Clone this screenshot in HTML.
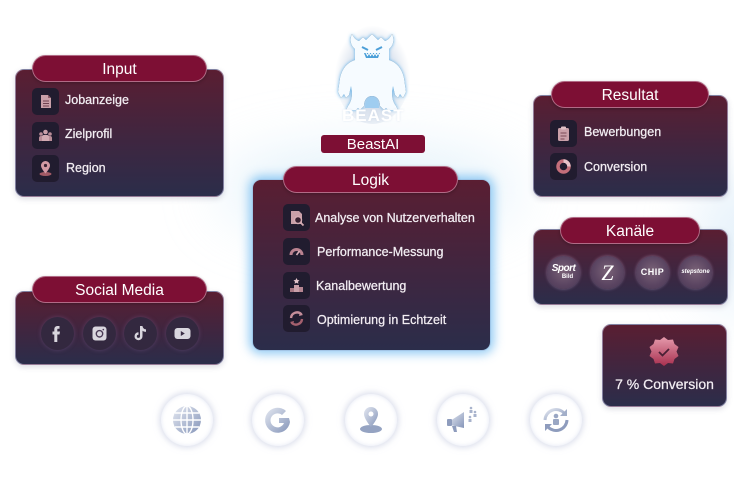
<!DOCTYPE html>
<html><head><meta charset="utf-8">
<style>
*{margin:0;padding:0;box-sizing:border-box}
html,body{width:734px;height:497px;overflow:hidden;background:#fff}
body{position:relative;font-family:"Liberation Sans",sans-serif;}
.bgglow{position:absolute;border-radius:50%;filter:blur(30px)}
.card{position:absolute;border-radius:9px;background:linear-gradient(180deg,#5a1e32 0%,#3f2640 55%,#2b2d4a 100%);border:1px solid rgba(200,200,235,0.55);box-shadow:0 2px 6px rgba(60,60,100,0.18)}
.pill{position:absolute;background:#7d0f34;border-radius:14px;color:#fff;font-size:15.5px;text-align:center;border:1px solid rgba(230,200,215,0.5);box-shadow:0 1px 3px rgba(0,0,0,0.25)}
.ib{position:absolute;width:27px;height:27px;border-radius:5px;background:#211c2f}
.ib svg{position:absolute;left:0;top:0}
.lbl{position:absolute;color:#f3eef3;font-size:12.5px;white-space:nowrap;-webkit-text-stroke:0.25px #f3eef3}
.sc{position:absolute;width:33px;height:33px;border-radius:50%;background:#33283f;box-shadow:0 0 4px rgba(120,90,140,0.5)}
.kc{position:absolute;width:33px;height:33px;border-radius:50%;background:radial-gradient(circle at 50% 45%,#7a6277 0%,#5a4461 60%,#4a3a55 100%);box-shadow:0 0 3px rgba(200,170,210,0.5);color:#fff;text-align:center}
.bc{position:absolute;width:52px;height:52px;border-radius:50%;background:#fff;box-shadow:0 0 6px 2px rgba(200,205,225,0.6),inset 0 0 4px rgba(220,225,240,0.8)}
.bc svg{position:absolute;left:0;top:0}
</style></head><body>
<div class="bgglow" style="left:220px;top:150px;width:300px;height:80px;background:rgba(190,225,245,0.45)"></div>
<div class="bgglow" style="left:700px;top:170px;width:80px;height:140px;background:rgba(200,225,245,0.5)"></div>

<!-- Input -->
<div class="card" style="left:15px;top:69px;width:209px;height:128px"></div>
<div class="pill" style="left:32px;top:55px;width:175px;height:27px;line-height:28px">Input</div>
<div class="ib" style="left:32px;top:88px"><svg width="27" height="27"><path d="M9 7h7l3 3v10H9z" fill="#c9a0a9"/><path d="M16 7v3h3" fill="#8b5b67"/><path d="M11 13h6M11 15.5h6M11 18h6" stroke="#6e4150" stroke-width="1"/></svg></div>
<div class="lbl" style="left:65px;top:93px">Jobanzeige</div>
<div class="ib" style="left:32px;top:122px"><svg width="27" height="27"><circle cx="13.5" cy="10" r="2.3" fill="#c9a0a9"/><circle cx="9" cy="12" r="1.8" fill="#b98d98"/><circle cx="18" cy="12" r="1.8" fill="#b98d98"/><path d="M7 19v-3a2 2 0 0 1 2-2h9a2 2 0 0 1 2 2v3z" fill="#b98d98"/><path d="M10 19v-4a2 2 0 0 1 2-2h3a2 2 0 0 1 2 2v4z" fill="#d2aab2"/></svg></div>
<div class="lbl" style="left:65px;top:127px">Zielprofil</div>
<div class="ib" style="left:32px;top:155px"><svg width="27" height="27"><ellipse cx="13.5" cy="19" rx="6" ry="2" fill="#a25a66"/><path d="M13.5 6a4.5 4.5 0 0 1 4.5 4.5c0 3-4.5 8-4.5 8s-4.5-5-4.5-8A4.5 4.5 0 0 1 13.5 6z" fill="#d39aa5"/><circle cx="13.5" cy="10.5" r="1.6" fill="#3a2233"/></svg></div>
<div class="lbl" style="left:66px;top:161px">Region</div>

<!-- Social Media -->
<div class="card" style="left:15px;top:291px;width:209px;height:74px"></div>
<div class="pill" style="left:32px;top:276px;width:175px;height:27px;line-height:28px">Social Media</div>
<div class="sc" style="left:41px;top:317px"><svg width="33" height="33"><path d="M18.5 9h-2.2a3 3 0 0 0-3 3v2.5H11.5v3h1.8V25h3v-7.5h2.2l.5-3h-2.7V12.5c0-.6.3-.8.8-.8h1.4z" fill="#d9d6de"/></svg></div>
<div class="sc" style="left:83px;top:317px"><svg width="33" height="33"><rect x="9.5" y="9.5" width="14" height="14" rx="3" fill="#d9d6de"/><circle cx="16.5" cy="16.8" r="3.2" fill="none" stroke="#4a3a55" stroke-width="1.4"/><circle cx="20.3" cy="12.6" r="0.8" fill="#4a3a55"/></svg></div>
<div class="sc" style="left:124px;top:317px"><svg width="33" height="33"><path d="M16 9h2.5c.3 2 1.5 3.2 3.5 3.4v2.5c-1.3 0-2.5-.4-3.5-1.1v5.4a4 4 0 1 1-4-4v2.5a1.6 1.6 0 1 0 1.5 1.6z" fill="#d9d6de"/></svg></div>
<div class="sc" style="left:166px;top:317px"><svg width="33" height="33"><rect x="8.5" y="11" width="16" height="11" rx="3" fill="#d9d6de"/><path d="M14.8 14v5l4-2.5z" fill="#3a2d45"/></svg></div>

<!-- Monster -->
<div style="position:absolute;left:335px;top:26px;width:75px;height:98px;border-radius:50%;background:radial-gradient(ellipse at 50% 55%,rgba(140,160,195,0.6) 0%,rgba(185,200,222,0.4) 50%,rgba(255,255,255,0) 72%)"></div>
<svg style="position:absolute;left:330px;top:28px" width="90" height="95" viewBox="0 0 90 95">
<defs><filter id="gl" x="-20%" y="-20%" width="140%" height="140%"><feGaussianBlur stdDeviation="1.8"/></filter></defs>
<g id="mon">
<path id="mp" d="M22 6C24 10 26 12 29 13L33 9L36 12L42 6L48 12L51 9L55 13C58 12 60 10 62 6C65 12 63 18 59 21L59 32C66 34 72 40 74 50L76 64L73 70L70 66L68 70L65 67L63 58L62 64C62 70 63 74 66 78L68 82L58 82L56 80L54 82L50 78C50 72 47 68 42 68C37 68 34 72 34 78L30 82L28 80L26 82L16 82L18 78C21 74 22 70 22 64L21 58L19 67L16 70L14 66L11 70L8 64L10 50C12 40 18 34 25 32L25 21C21 18 19 12 22 6Z"/>
</g>
<use href="#mp" fill="#5fb0ea" filter="url(#gl)"/>
<use href="#mp" fill="#f6fbff"/>
<path d="M32 19l6 3M52 19l-6 3" stroke="#4d9fd8" stroke-width="2"/>
<path d="M34 25h16l-2 5H36z" fill="#4b9fd8"/>
<path d="M36 25l1.5 2.5 1.5-2.5 1.5 2.5 1.5-2.5 1.5 2.5 1.5-2.5 1.5 2.5 1.5-2.5 1.5 2.5" stroke="#fff" stroke-width="1" fill="none"/>
<path d="M35 80c0-8 3-11 7-11s7 3 7 11z" fill="#9fcdf0"/>
</svg>
<div style="position:absolute;left:342px;top:106px;color:#fff;font-size:17px;font-weight:bold;letter-spacing:1px;text-shadow:0 0 2px rgba(190,205,225,0.45)">BEAST</div>
<div style="position:absolute;left:321px;top:135px;width:104px;height:18px;background:#7d0f34;border-radius:3px;color:#fff;font-size:15px;text-align:center;line-height:19px">BeastAI</div>

<!-- Logik -->
<div class="card" style="left:252px;top:179px;width:239px;height:172px;border:1px solid rgba(170,215,250,0.9);box-shadow:0 0 10px 3px rgba(110,185,240,0.75)"></div>
<div class="pill" style="left:283px;top:166px;width:175px;height:27px;line-height:28px">Logik</div>
<div class="ib" style="left:283px;top:204px"><svg width="27" height="27"><path d="M8 7h8l3 3v10H8z" fill="#c9a0a9"/><circle cx="15" cy="16" r="3.5" fill="#3a2233" stroke="#d4aab2" stroke-width="1.4"/><path d="M17.5 18.5l3 3" stroke="#d4aab2" stroke-width="1.8"/></svg></div>
<div class="lbl" style="left:315px;top:211px">Analyse von Nutzerverhalten</div>
<div class="ib" style="left:283px;top:238px"><svg width="27" height="27"><path d="M8 17a5.5 5.5 0 1 1 11 0" fill="none" stroke="#b98290" stroke-width="3"/><path d="M13.5 17l3-4" stroke="#d8b0b8" stroke-width="1.6"/></svg></div>
<div class="lbl" style="left:317px;top:245px">Performance-Messung</div>
<div class="ib" style="left:283px;top:272px"><svg width="27" height="27"><path d="M13.5 6l1 2 2 .3-1.5 1.4.4 2-1.9-1-1.9 1 .4-2L10.5 8.3l2-.3z" fill="#e2c4ca"/><rect x="11" y="13" width="5" height="7" fill="#c9a0a9"/><rect x="7" y="16" width="4" height="4" fill="#a77783"/><rect x="16" y="15" width="4" height="5" fill="#b58591"/></svg></div>
<div class="lbl" style="left:316px;top:279px">Kanalbewertung</div>
<div class="ib" style="left:283px;top:305px"><svg width="27" height="27"><path d="M8 13a6 6 0 0 1 10.5-3.5" fill="none" stroke="#c58e9a" stroke-width="2.4"/><path d="M17 7l3 3-4 1z" fill="#c58e9a"/><path d="M19 14a6 6 0 0 1-10.5 3.5" fill="none" stroke="#a5606e" stroke-width="2.4"/><path d="M10 20l-3-3 4-1z" fill="#a5606e"/></svg></div>
<div class="lbl" style="left:317px;top:313px">Optimierung in Echtzeit</div>

<!-- Resultat -->
<div class="card" style="left:533px;top:95px;width:195px;height:102px"></div>
<div class="pill" style="left:551px;top:81px;width:158px;height:27px;line-height:28px">Resultat</div>
<div class="ib" style="left:550px;top:120px"><svg width="27" height="27"><rect x="8" y="8" width="11" height="13" rx="1.5" fill="#c9a0a9"/><rect x="11" y="6.5" width="5" height="3" rx="1" fill="#e0c0c6"/><path d="M10.5 13h6M10.5 16h6M10.5 19h4" stroke="#7a4a58" stroke-width="1"/></svg></div>
<div class="lbl" style="left:584px;top:125px">Bewerbungen</div>
<div class="ib" style="left:550px;top:153px"><svg width="27" height="27"><circle cx="13.5" cy="13.5" r="5.5" fill="none" stroke="#c46e7a" stroke-width="3.5"/><path d="M13.5 8a5.5 5.5 0 0 1 5.5 5.5" fill="none" stroke="#e8c2c8" stroke-width="3.5"/></svg></div>
<div class="lbl" style="left:584px;top:160px">Conversion</div>

<!-- Kanäle -->
<div class="card" style="left:533px;top:229px;width:195px;height:76px"></div>
<div class="pill" style="left:560px;top:217px;width:140px;height:27px;line-height:28px">Kanäle</div>
<div class="kc" style="left:547px;top:256px"><div style="font-size:10px;font-weight:bold;font-style:italic;line-height:10px;margin-top:8px;letter-spacing:-0.5px">Sport</div><div style="font-size:6px;font-weight:bold;line-height:7px;margin-left:8px">Bild</div></div>
<div class="kc" style="left:591px;top:256px;font-family:'Liberation Serif',serif;font-size:22px;line-height:33px;font-style:italic">Z</div>
<div class="kc" style="left:636px;top:256px;font-size:9px;font-weight:bold;line-height:33px;letter-spacing:0.5px">CHIP</div>
<div class="kc" style="left:679px;top:256px;font-size:6px;font-weight:bold;font-style:italic;line-height:33px">stepstone</div>

<!-- 7% Conversion -->
<div class="card" style="left:602px;top:324px;width:125px;height:83px"></div>
<svg style="position:absolute;left:647px;top:335px" width="34" height="34" viewBox="0 0 34 34">
<defs><linearGradient id="bg1" x1="0" y1="0" x2="0" y2="1"><stop offset="0" stop-color="#e59aac"/><stop offset="1" stop-color="#a8304f"/></linearGradient></defs>
<path d="M17 2l4 3 5-.5 1.5 4.5 4 3-2 4.5 2 4.5-4 3-1.5 4.5-5-.5-4 3-4-3-5 .5-1.5-4.5-4-3 2-4.5-2-4.5 4-3L8 4.5l5 .5z" fill="url(#bg1)"/>
<path d="M12 17l3.5 3.5L22 14" stroke="#4a2035" stroke-width="1.8" fill="none"/>
</svg>
<div style="position:absolute;left:602px;top:376px;width:125px;text-align:center;color:#f3eef3;font-size:14px;-webkit-text-stroke:0.25px #f3eef3">7 % Conversion</div>

<!-- bottom icons -->
<svg width="0" height="0" style="position:absolute"><defs><linearGradient id="bi" x1="0" y1="0" x2="1" y2="1"><stop offset="0" stop-color="#e4e8f1"/><stop offset="1" stop-color="#8595b9"/></linearGradient></defs></svg>
<div class="bc" style="left:161px;top:394px"><svg width="52" height="52"><circle cx="26" cy="26" r="14" fill="url(#bi)"/><path d="M26 12v28M12 26h28M14 19h24M14 33h24" stroke="#fff" stroke-width="1.4"/><ellipse cx="26" cy="26" rx="6" ry="14" fill="none" stroke="#fff" stroke-width="1.4"/></svg></div>
<div class="bc" style="left:252px;top:394px"><svg width="52" height="52"><path d="M37 24H27v5h5a7 7 0 1 1-2-8l4-4a12.5 12.5 0 1 0 4 11z" fill="url(#bi)"/></svg></div>
<div class="bc" style="left:345px;top:394px"><svg width="52" height="52"><ellipse cx="26" cy="35" rx="11" ry="4" fill="#95a3c2"/><path d="M26 13a7 7 0 0 1 7 7c0 5-7 13-7 13s-7-8-7-13a7 7 0 0 1 7-7z" fill="url(#bi)"/><circle cx="26" cy="20" r="2.5" fill="#fff"/></svg></div>
<div class="bc" style="left:437px;top:394px"><svg width="52" height="52"><path d="M13 27l14-9v16l-14-3z" fill="url(#bi)"/><rect x="10" y="25" width="5" height="7" rx="1" fill="#8e9cbd"/><path d="M15 32l2 6h3l-1-6" fill="#8e9cbd"/><circle cx="34" cy="14" r="1.3" fill="#a8b3cc"/><rect x="32.5" y="16" width="3" height="3" fill="#a8b3cc"/><circle cx="38" cy="18" r="1.3" fill="#a8b3cc"/><rect x="36.5" y="20" width="3" height="3" fill="#a8b3cc"/><circle cx="33" cy="23" r="1.3" fill="#a8b3cc"/><rect x="31.5" y="25" width="3" height="3" fill="#a8b3cc"/></svg></div>
<div class="bc" style="left:530px;top:394px"><svg width="52" height="52"><path d="M15 26a11 11 0 0 1 19-7" fill="none" stroke="url(#bi)" stroke-width="3"/><path d="M37 15v7h-7z" fill="#a3afc9"/><path d="M37 26a11 11 0 0 1-19 7" fill="none" stroke="#8e9cbd" stroke-width="3"/><path d="M15 37v-7h7z" fill="#8e9cbd"/><circle cx="26" cy="22" r="2.3" fill="#9aa7c4"/><rect x="23" y="25" width="6" height="6" rx="1" fill="#9aa7c4"/></svg></div>
</body></html>
